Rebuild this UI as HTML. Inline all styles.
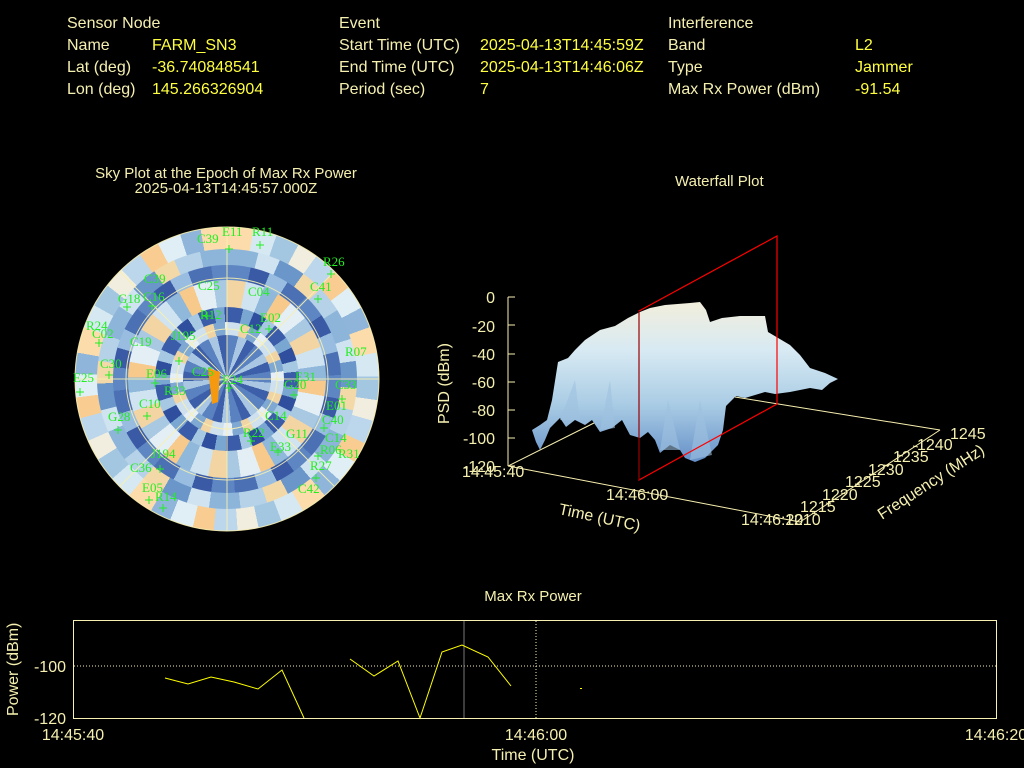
<!DOCTYPE html>
<html><head><meta charset="utf-8"><style>
body{margin:0;background:#000;width:1024px;height:768px;overflow:hidden;position:relative;font-family:"Liberation Sans",sans-serif;font-size:16px}
.t{position:absolute;color:#f5f0b0;white-space:nowrap}
.y{position:absolute;color:#ffff40;white-space:nowrap}
.ring{position:absolute;border-radius:50%}
</style></head><body>
<div class="t" style="left:67px;top:15px">Sensor Node</div>
<div class="t" style="left:67px;top:37px">Name</div><div class="y" style="left:152px;top:37px">FARM_SN3</div>
<div class="t" style="left:67px;top:59px">Lat (deg)</div><div class="y" style="left:152px;top:59px">-36.740848541</div>
<div class="t" style="left:67px;top:81px">Lon (deg)</div><div class="y" style="left:152px;top:81px">145.266326904</div>
<div class="t" style="left:339px;top:15px">Event</div>
<div class="t" style="left:339px;top:37px">Start Time (UTC)</div><div class="y" style="left:480px;top:37px">2025-04-13T14:45:59Z</div>
<div class="t" style="left:339px;top:59px">End Time (UTC)</div><div class="y" style="left:480px;top:59px">2025-04-13T14:46:06Z</div>
<div class="t" style="left:339px;top:81px">Period (sec)</div><div class="y" style="left:480px;top:81px">7</div>
<div class="t" style="left:668px;top:15px">Interference</div>
<div class="t" style="left:668px;top:37px">Band</div><div class="y" style="left:855px;top:37px">L2</div>
<div class="t" style="left:668px;top:59px">Type</div><div class="y" style="left:855px;top:59px">Jammer</div>
<div class="t" style="left:668px;top:81px">Max Rx Power (dBm)</div><div class="y" style="left:855px;top:81px">-91.54</div>

<div class="t" style="left:0;width:452px;text-align:center;top:166px;font-size:15px;line-height:15px">Sky Plot at the Epoch of Max Rx Power<br>2025-04-13T14:45:57.000Z</div>
<div class="t" style="left:675px;top:173px;font-size:15px">Waterfall Plot</div>

<div class="ring" style="left:75px;top:227px;width:304px;height:304px;background:repeating-conic-gradient(#fbdcaa 0 10deg,#d6e9f3 10deg 19deg,#a4c7e1 19deg 28deg,#f1eee0 28deg 36deg,#bcd7eb 36deg 45deg,#f9cd92 45deg 53deg,#e0eef5 53deg 62deg,#8fb6da 62deg 70deg)"></div>
<div class="ring" style="left:97px;top:249px;width:260px;height:260px;background:repeating-conic-gradient(#8db5da 0 14deg,#cfe3f0 14deg 24deg,#6a96c9 24deg 36deg,#f4d9a8 36deg 46deg,#b5d2e8 46deg 58deg)"></div>
<div class="ring" style="left:113px;top:265px;width:228px;height:228px;background:repeating-conic-gradient(#5d86c2 0 12deg,#3a5aa6 12deg 22deg,#98bde0 22deg 32deg,#4c70b4 32deg 44deg)"></div>
<div class="ring" style="left:128px;top:280px;width:198px;height:198px;background:repeating-conic-gradient(#f2d5a2 0 11deg,#cfe3f0 11deg 22deg,#8fb8db 22deg 31deg,#f7c98a 31deg 40deg,#e4eff5 40deg 52deg,#a9c9e3 52deg 60deg)"></div>
<div class="ring" style="left:155px;top:307px;width:144px;height:144px;background:repeating-conic-gradient(#3b5ca8 0 13deg,#7aa6d2 13deg 22deg,#2f4f9e 22deg 33deg,#a7c8e3 33deg 42deg)"></div>
<div class="ring" style="left:170px;top:322px;width:114px;height:114px;background:repeating-conic-gradient(#cfe1ef 0 14deg,#f1d4a3 14deg 24deg,#7fa9d3 24deg 36deg,#e6eff5 36deg 46deg)"></div>
<div class="ring" style="left:183px;top:335px;width:88px;height:88px;background:repeating-conic-gradient(#5b82c0 0 15deg,#a9c7e2 15deg 27deg,#3d5ea8 27deg 40deg)"></div>
<svg style="position:absolute;left:0;top:0" width="1024" height="768">
<g stroke="#f8f0b0" stroke-width="1" fill="none" opacity=".9">
<circle cx="227" cy="379" r="50"/><circle cx="227" cy="379" r="101"/><circle cx="227" cy="379" r="152"/>
<line x1="75" y1="379" x2="379" y2="379"/><line x1="227" y1="227" x2="227" y2="531"/>
<line x1="120" y1="272" x2="334" y2="486"/><line x1="334" y1="272" x2="120" y2="486"/>
</g>
<path d="M208 368 L220 372 L218 402 L212 404 Z" fill="#f59a10"/>
<g fill="#22ee22" font-family="Liberation Serif,serif" font-size="13" stroke="none">
<text x="222" y="236">E11</text><text x="252" y="236">R11</text><text x="197" y="243">C39</text>
<text x="323" y="266">R26</text><text x="144" y="283">C39</text><text x="310" y="291">C41</text>
<text x="143" y="301">C16</text><text x="118" y="303">G18</text><text x="198" y="290">C25</text>
<text x="248" y="296">C04</text><text x="200" y="319">R12</text><text x="260" y="322">E02</text>
<text x="86" y="330">R24</text><text x="92" y="338">C02</text><text x="171" y="340">J195</text>
<text x="240" y="333">C12</text><text x="130" y="346">C19</text><text x="100" y="368">C30</text>
<text x="345" y="356">R07</text><text x="73" y="382">E25</text><text x="146" y="378">E06</text>
<text x="192" y="376">C25</text><text x="222" y="384">E24</text><text x="295" y="381">E31</text>
<text x="284" y="389">G20</text><text x="335" y="389">C33</text><text x="164" y="395">R33</text>
<text x="326" y="410">E01</text><text x="139" y="408">C10</text><text x="265" y="420">C14</text>
<text x="108" y="421">G28</text><text x="322" y="424">C40</text><text x="243" y="437">R22</text>
<text x="286" y="438">G11</text><text x="325" y="442">C14</text><text x="270" y="451">E33</text>
<text x="151" y="458">J194</text><text x="320" y="454">R06</text><text x="338" y="458">R31</text>
<text x="130" y="472">C36</text><text x="310" y="470">R27</text><text x="142" y="492">E05</text>
<text x="155" y="501">R14</text><text x="298" y="493">C42</text>
</g>
<g stroke="#22ee22" stroke-width="1">
<path d="M229 245v8M225 249h8M260 241v8M256 245h8M331 270v8M327 274h8M318 295v8M314 299h8M152 302v8M148 306h8M127 303v8M123 307h8M207 312v8M203 316h8M269 325v8M265 329h8M99 339v8M95 343h8M179 357v8M175 361h8M109 371v8M105 375h8M155 379v8M151 383h8M80 388v8M76 392h8M229 384v8M225 388h8M294 391v8M290 395h8M342 395v8M338 399h8M147 412v8M143 416h8M118 426v8M114 430h8M324 424v8M320 428h8M251 437v8M247 441h8M278 448v8M274 452h8M318 452v8M314 456h8M160 465v8M156 469h8M316 474v8M312 478h8M149 496v8M145 500h8M163 504v8M159 508h8"/>
</g>

<!-- waterfall -->
<g stroke="#f8f0b0" stroke-width="1" fill="none">
<line x1="508" y1="297" x2="508" y2="466"/>
<path d="M508 297h7M508 325h7M508 354h7M508 382h7M508 410h7M508 438h7M508 466h7"/>
<line x1="508" y1="466" x2="800" y2="522"/>
<line x1="800" y1="522" x2="940" y2="430"/>
<line x1="508" y1="466" x2="600" y2="420"/>
<line x1="735" y1="397" x2="940" y2="430"/>
<path d="M812 513l5 1M826 503l5 1M841 493l5 1M855 484l5 1M869 474l5 1M884 465l5 1M898 455l5 1M913 446l5 1"/>
</g>
<defs><linearGradient id="wg" x1="0" y1="0" x2="0" y2="1"><stop offset="0" stop-color="#f2eedc"/><stop offset=".3" stop-color="#d8eaf3"/><stop offset=".65" stop-color="#a8cbe4"/><stop offset="1" stop-color="#6590c8"/></linearGradient></defs>
<path d="M532 430 L540 425 L547 420 L552 400 L558 362 L568 358 L575 350 L585 340 L600 330 L615 326 L628 318 L640 312 L650 308 L665 305 L690 303 L700 302 L706 310 L710 322 L722 318 L740 316 L765 316 L768 332 L790 345 L800 355 L810 368 L825 373 L838 379 L830 383 L822 390 L810 388 L790 392 L775 394 L765 392 L745 398 L736 396 L726 406 L723 430 L718 445 L705 458 L695 462 L685 458 L680 450 L670 445 L660 453 L655 440 L648 432 L640 438 L630 435 L622 420 L612 428 L600 432 L592 420 L585 425 L575 420 L566 427 L560 418 L550 428 L545 440 L540 450 L536 442 Z" fill="url(#wg)"/>
<path d="M560 420 L575 380 L580 420 Z M600 430 L610 380 L615 428 Z M660 450 L668 400 L680 450 Z M690 460 L700 400 L712 455 Z" fill="#9fc2e0" opacity=".6"/>
<g stroke="#ff0000" stroke-width="1.2" fill="none"><path d="M639 311 L777 236 L777 404 L639 480 Z"/></g>
<line x1="639" y1="311" x2="639" y2="480" stroke="#000" stroke-width=".8" opacity=".6"/>
<g fill="#f5f0b0" font-family="Liberation Sans,sans-serif" font-size="16">
<text x="495" y="303" text-anchor="end">0</text><text x="495" y="332" text-anchor="end">-20</text>
<text x="495" y="360" text-anchor="end">-40</text><text x="495" y="388" text-anchor="end">-60</text>
<text x="495" y="416" text-anchor="end">-80</text><text x="495" y="444" text-anchor="end">-100</text>
<text x="495" y="472" text-anchor="end">-120</text>
<text x="462" y="477">14:45:40</text><text x="606" y="500">14:46:00</text><text x="741" y="525">14:46:20</text>
<text x="785" y="525">1210</text><text x="800" y="512">1215</text><text x="822" y="500">1220</text>
<text x="845" y="487">1225</text><text x="868" y="475">1230</text><text x="893" y="462">1235</text>
<text x="917" y="450">1240</text><text x="950" y="439">1245</text>
<text transform="translate(449,424) rotate(-90)">PSD (dBm)</text>
<text transform="translate(558,514) rotate(12)">Time (UTC)</text>
<text transform="translate(882,520) rotate(-33)">Frequency (MHz)</text>
</g>

<!-- bottom -->
<text x="533" y="601" fill="#f5f0b0" font-size="15" text-anchor="middle" font-family="Liberation Sans,sans-serif">Max Rx Power</text>
<rect x="73.5" y="620.5" width="923" height="98" fill="none" stroke="#f8f0b0"/>
<line x1="74" y1="666" x2="996" y2="666" stroke="#f8f0b0" stroke-dasharray="1,2"/>
<line x1="536" y1="621" x2="536" y2="718" stroke="#f8f0b0" stroke-dasharray="1,2"/>
<line x1="464" y1="621" x2="464" y2="718" stroke="#777"/>
<polyline fill="none" stroke="#ffff00" points="165,678 188,684 211,677 234,682 258,689 282,670 304,718"/>
<polyline fill="none" stroke="#ffff00" points="350,659 374,676 398,661 420,718 442,652 462,645 488,657 511,686"/>
<rect x="580" y="688" width="2" height="1" fill="#ffff00"/>
<g fill="#f5f0b0" font-family="Liberation Sans,sans-serif" font-size="16">
<text x="66" y="672" text-anchor="end">-100</text><text x="66" y="724" text-anchor="end">-120</text>
<text x="73" y="740" text-anchor="middle">14:45:40</text><text x="536" y="740" text-anchor="middle">14:46:00</text><text x="996" y="740" text-anchor="middle">14:46:20</text>
<text x="533" y="760" text-anchor="middle">Time (UTC)</text>
<text transform="translate(18,716) rotate(-90)">Power (dBm)</text>
</g>
</svg>
</body></html>
